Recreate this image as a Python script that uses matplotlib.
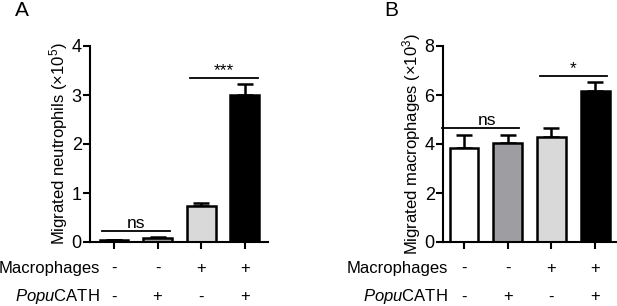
import matplotlib
matplotlib.use("Agg")
import matplotlib.pyplot as plt
import matplotlib.transforms as mtransforms

plt.rcParams['font.family'] = ['Liberation Sans', 'DejaVu Sans']
plt.rcParams['mathtext.fontset'] = 'custom'
plt.rcParams['mathtext.rm'] = 'Liberation Sans'
plt.rcParams['mathtext.it'] = 'Liberation Sans:italic'

# ---- data ----
groups = [0, 1, 2, 3]
macrophages = ['-', '-', '+', '+']
popucath = ['-', '+', '-', '+']
neutrophils = [0.04, 0.08, 0.74, 3.01]
neutrophils_err = [0.01, 0.02, 0.05, 0.21]
macro_vals = [3.82, 4.03, 4.27, 6.17]
macro_err = [0.55, 0.34, 0.38, 0.38]
bar_colors = ['#ffffff', '#9e9ea2', '#d9d9d9', '#000000']

W, H = 617, 306
fig = plt.figure(figsize=(W / 100, H / 100), dpi=100)

def px_axes(l, r, t, b):
    return fig.add_axes([l / W, 1 - b / H, (r - l) / W, (b - t) / H])

axA = px_axes(90, 268, 46, 242)
axB = px_axes(443, 617, 46, 242)

def draw(ax, vals, errs, ylim, yticks, xlim, ylabel):
    ax.bar(groups, vals, width=0.66, color=bar_colors, edgecolor='black',
           linewidth=1.8, zorder=2)
    ax.errorbar(groups, vals, yerr=[[0] * 4, errs], fmt='none', ecolor='black',
                elinewidth=1.8, capsize=5.5, capthick=1.8, zorder=1)
    ax.set_ylim(*ylim)
    ax.set_xlim(*xlim)
    ax.set_yticks(yticks)
    ax.set_xticks(groups)
    ax.set_xticklabels([])
    for s in ['top', 'right']:
        ax.spines[s].set_visible(False)
    for s in ['left', 'bottom']:
        ax.spines[s].set_linewidth(1.5)
    ax.tick_params(axis='both', width=1.5, length=5, labelsize=13, pad=1)
    ax.set_ylabel(ylabel, fontsize=12, labelpad=1)
    ax.patch.set_visible(False)

draw(axA, neutrophils, neutrophils_err, (0, 4), [0, 1, 2, 3, 4], (-0.55, 3.53),
     r'Migrated neutrophils ($\times$10$^5$)')
draw(axB, macro_vals, macro_err, (0, 8), [0, 2, 4, 6, 8], (-0.48, 3.5),
     r'Migrated macrophages ($\times$10$^3$)')

def sig(ax, x0, x1, y, text, dx=0.0):
    ax.plot([x0, x1], [y, y], color='black', lw=1.3, clip_on=False)
    ax.text((x0 + x1) / 2 + dx, y, text, ha='center', va='bottom', fontsize=12.5)

sig(axA, -0.27, 1.28, 0.22, 'ns')
sig(axA, 1.74, 3.3, 3.35, '***')
sig(axB, -0.5, 1.25, 4.65, 'ns', 0.15)
sig(axB, 1.73, 3.27, 6.78, '*')

# condition rows
for ax, name_right in [(axA, 100), (axB, 448)]:
    trans = mtransforms.blended_transform_factory(ax.transData, fig.transFigure)
    for i in groups:
        ax.text(i, 1 - 268 / H, macrophages[i], transform=trans, ha='center',
                va='center', fontsize=12)
        ax.text(i, 1 - 297 / H, popucath[i], transform=trans, ha='center',
                va='center', fontsize=12)
    fig.text(name_right / W, 1 - 268 / H, 'Macrophages', ha='right', va='center',
             fontsize=12)
    fig.text(name_right / W, 1 - 297 / H, r'$\mathit{Popu}$CATH', ha='right',
             va='center', fontsize=12)

fig.text(15 / W, 1 - 10 / H, 'A', ha='left', va='center', fontsize=15)
fig.text(384 / W, 1 - 10 / H, 'B', ha='left', va='center', fontsize=15)

fig.savefig('out.png', dpi=100)
